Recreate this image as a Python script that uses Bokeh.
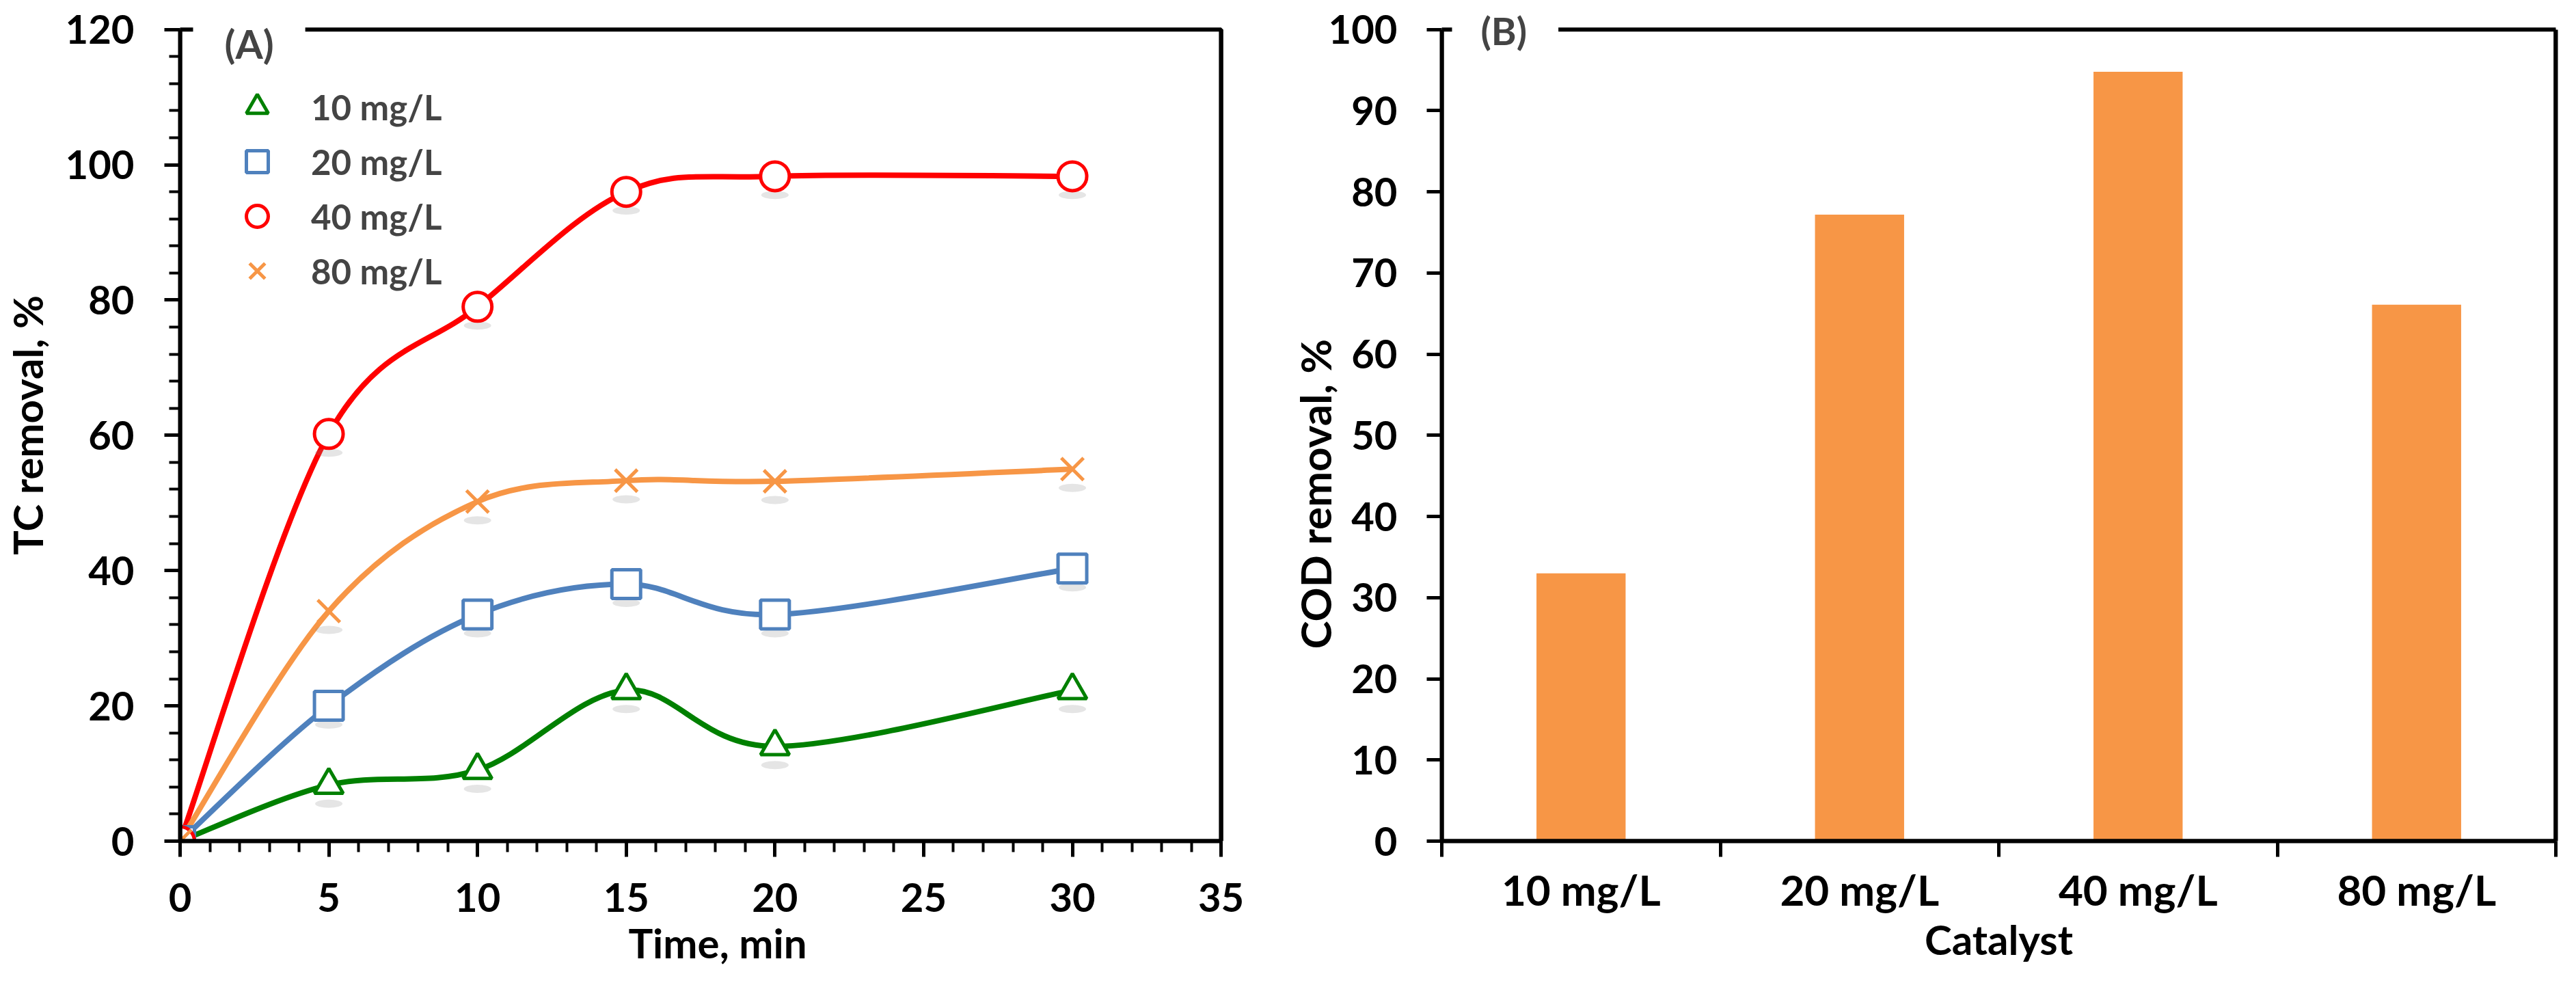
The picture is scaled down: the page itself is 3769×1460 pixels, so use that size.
import numpy as np
from bokeh.plotting import figure
from bokeh.layouts import row
from bokeh.models import (Range1d, SingleIntervalTicker, FixedTicker, BoxAnnotation,
                          Legend, LegendItem, Label, Title, LinearAxis)
from bokeh.embed import file_html
from bokeh.resources import INLINE

# ---------------- data ----------------
time_min = [0, 5, 10, 15, 20, 30]
tc_10 = [0, 8.3, 10.5, 22.3, 14.0, 22.3]
tc_20 = [0, 20.0, 33.5, 38.0, 33.5, 40.3]
tc_40 = [0, 60.2, 79.0, 96.0, 98.3, 98.3]
tc_80 = [0, 34.0, 50.2, 53.3, 53.2, 55.0]
series_names = ["10 mg/L", "20 mg/L", "40 mg/L", "80 mg/L"]

catalysts = ["10 mg/L", "20 mg/L", "40 mg/L", "80 mg/L"]
cod_removal = [33.0, 77.2, 94.8, 66.1]

A_XMAX, A_YMAX = 35, 120
B_YMAX = 100

FONT = "Lato"
TICK_FS = "58px"
TITLE_FS = "60px"
AXW = 6

A_FW, A_FH = 1527, 1200
B_FW, B_FH = 1630, 1230
HEAD = 1.025
A_RPAD = 50.0  # px of free frame beyond the right border line of panel A


def smooth_segments(xs, ys, t=1.0 / 6.0):
    xs = np.asarray(xs, float)
    ys = np.asarray(ys, float)
    n = len(xs)
    out = dict(x0=[], y0=[], x1=[], y1=[], cx0=[], cy0=[], cx1=[], cy1=[])
    for i in range(n - 1):
        ip = max(i - 1, 0)
        inn = min(i + 2, n - 1)
        out["x0"].append(xs[i]); out["y0"].append(ys[i])
        out["x1"].append(xs[i + 1]); out["y1"].append(ys[i + 1])
        out["cx0"].append(xs[i] + (xs[i + 1] - xs[ip]) * t)
        out["cy0"].append(ys[i] + (ys[i + 1] - ys[ip]) * t)
        out["cx1"].append(xs[i + 1] - (xs[inn] - xs[i]) * t)
        out["cy1"].append(ys[i + 1] - (ys[inn] - ys[i]) * t)
    return out


def frame_lines(p, xmax, ymax):
    # right border as a thin filled bar, plus the plot-area box (top edge = top border)
    p.rect(x=[xmax], y=[ymax / 2.0], width=AXW, height=[ymax], width_units="screen",
           fill_color="black", line_color=None)
    p.add_layout(BoxAnnotation(left=0, right=xmax, bottom=0, top=ymax,
                               fill_alpha=0, fill_color=None,
                               line_color="black", line_width=AXW, line_alpha=1.0))


def style_axis(ax):
    ax.axis_line_width = AXW
    ax.axis_line_color = "black"
    ax.major_tick_line_width = 5
    ax.minor_tick_line_width = 4
    ax.major_tick_line_color = "black"
    ax.minor_tick_line_color = "black"
    ax.major_tick_in = 0
    ax.minor_tick_in = 0
    ax.major_label_text_font = FONT
    ax.major_label_text_font_style = "bold"
    ax.major_label_text_color = "black"
    ax.axis_label_text_font = FONT
    ax.axis_label_text_font_style = "bold"
    ax.axis_label_text_font_size = TITLE_FS
    ax.axis_label_text_color = "black"


# ---------------- panel A ----------------
a_xpad = A_RPAD * A_XMAX / A_FW
pA = figure(width=1850, height=1444, output_backend="svg", toolbar_location=None,
            x_range=Range1d(0, A_XMAX + a_xpad), y_range=Range1d(0, A_YMAX * HEAD),
            min_border_left=259, min_border_right=int(64 - A_RPAD), min_border_top=13,
            min_border_bottom=214, x_axis_label="Time, min", y_axis_label="TC removal, %")
pA.title.visible = False
pA.grid.visible = False
pA.outline_line_color = None

pA.xaxis.ticker = SingleIntervalTicker(interval=5, num_minor_ticks=5)
pA.yaxis.ticker = SingleIntervalTicker(interval=20, num_minor_ticks=5)
pA.xaxis.bounds = (0, A_XMAX)
pA.yaxis.bounds = (0, A_YMAX)
for ax in (pA.xaxis[0], pA.yaxis[0]):
    style_axis(ax)
    ax.major_tick_out = 23
    ax.minor_tick_out = 16
    ax.major_label_text_font_size = TICK_FS
pA.xaxis.major_label_standoff = 38
pA.xaxis.axis_label_standoff = 6
pA.yaxis.major_label_standoff = 44
pA.yaxis.axis_label_standoff = 17

styles = [
    (tc_10, "#008000", "triangle"),
    (tc_20, "#4F81BD", "square"),
    (tc_40, "#FF0000", "circle"),
    (tc_80, "#F79646", "x"),
]
shadow_off = 27 * (A_YMAX * HEAD) / A_FH
items = []
for vals, col, mk in styles:
    seg = smooth_segments(time_min, vals)
    pA.bezier(line_color=col, line_width=8, **seg)
for (vals, col, mk), name in zip(styles, series_names):
    pA.ellipse(x=time_min, y=[v - shadow_off for v in vals], width=40, height=12,
               width_units="screen", height_units="screen",
               fill_color="#8a8a8a", fill_alpha=0.22, line_color=None)
    if mk == "x":
        sr = pA.scatter(time_min, vals, marker=mk, size=46, line_color=col, line_width=5)
    else:
        sr = pA.scatter(time_min, vals, marker=mk, size=42, line_color=col, line_width=5,
                        fill_color="white")
    dummy = pA.line(x=[], y=[], line_color=col, line_width=9)
    items.append(LegendItem(label=name, renderers=[dummy, sr]))

frame_lines(pA, A_XMAX, A_YMAX)

legend = Legend(items=items, location=(54, 794), orientation="vertical",
                glyph_width=118, glyph_height=80, label_height=80, spacing=0,
                padding=0, margin=0, label_standoff=20,
                label_text_font=FONT, label_text_font_size="51px",
                label_text_font_style="bold", border_line_color=None,
                background_fill_alpha=0)
pA.add_layout(legend)

labA = Label(x=19, y=A_YMAX - 20.0 * A_YMAX * HEAD / A_FH, x_units="screen", y_units="data",
             text="(A)", text_font=FONT, text_font_style="bold", text_font_size="58px",
             text_align="left", text_baseline="middle",
             background_fill_color="white",
             padding=dict(left=46, right=46, top=6, bottom=6))
pA.add_layout(labA)

# ---------------- panel B ----------------
pB = figure(width=1903, height=1444, output_backend="svg", toolbar_location=None,
            x_range=Range1d(0, len(catalysts)), y_range=Range1d(0, B_YMAX * HEAD),
            min_border_left=259, min_border_right=14, min_border_top=3,
            min_border_bottom=210, x_axis_label="Catalyst")
pB.title.visible = False
pB.grid.visible = False
pB.outline_line_color = None

centers = [i + 0.5 for i in range(len(catalysts))]
bounds = [float(i) for i in range(len(catalysts) + 1)]
pB.vbar(x=centers, top=cod_removal, width=0.32, fill_color="#F79646", line_color=None)

pB.xaxis.ticker = FixedTicker(ticks=centers, minor_ticks=bounds)
pB.xaxis.major_label_overrides = {c: name for c, name in zip(centers, catalysts)}
pB.xaxis.bounds = (0, len(catalysts))
pB.yaxis.ticker = SingleIntervalTicker(interval=10, num_minor_ticks=0)
pB.yaxis.bounds = (0, B_YMAX)
for ax in (pB.xaxis[0], pB.yaxis[0]):
    style_axis(ax)
    ax.minor_tick_line_width = 5
    ax.major_tick_out = 22
    ax.minor_tick_out = 23
pB.xaxis.major_tick_line_color = None
pB.xaxis.major_label_text_font_size = "62px"
pB.yaxis.major_label_text_font_size = TICK_FS
pB.xaxis.major_label_standoff = 10
pB.xaxis.axis_label_standoff = -3
pB.yaxis.major_label_standoff = 43
pB.yaxis.minor_tick_line_color = None
frame_lines(pB, len(catalysts), B_YMAX)

# right border of panel B as a bare axis line at the frame edge
rightB = LinearAxis(ticker=FixedTicker(ticks=[0, B_YMAX]), bounds=(0, B_YMAX),
                    major_label_overrides={0: "", B_YMAX: ""},
                    axis_line_width=AXW, axis_line_color="black",
                    major_tick_out=0, major_tick_in=0, major_label_standoff=0,
                    major_tick_line_color=None, minor_tick_line_color=None)
pB.add_layout(rightB, "right")

labB = Label(x=15, y=B_YMAX - 1.0 * B_YMAX * HEAD / B_FH, x_units="screen", y_units="data",
             text="(B)", text_font=FONT, text_font_style="bold", text_font_size="56px",
             text_align="left", text_baseline="middle",
             background_fill_color="white",
             padding=dict(left=42, right=46, top=6, bottom=6))
pB.add_layout(labB)

ytitleB = Title(text="COD removal, %", align="left", offset=281,
                text_font=FONT, text_font_style="bold", text_font_size="62px",
                text_color="black", standoff=-40)
pB.add_layout(ytitleB, "left")

layout = row(pA, pB)
open("out.html", "w").write(file_html(layout, INLINE))
